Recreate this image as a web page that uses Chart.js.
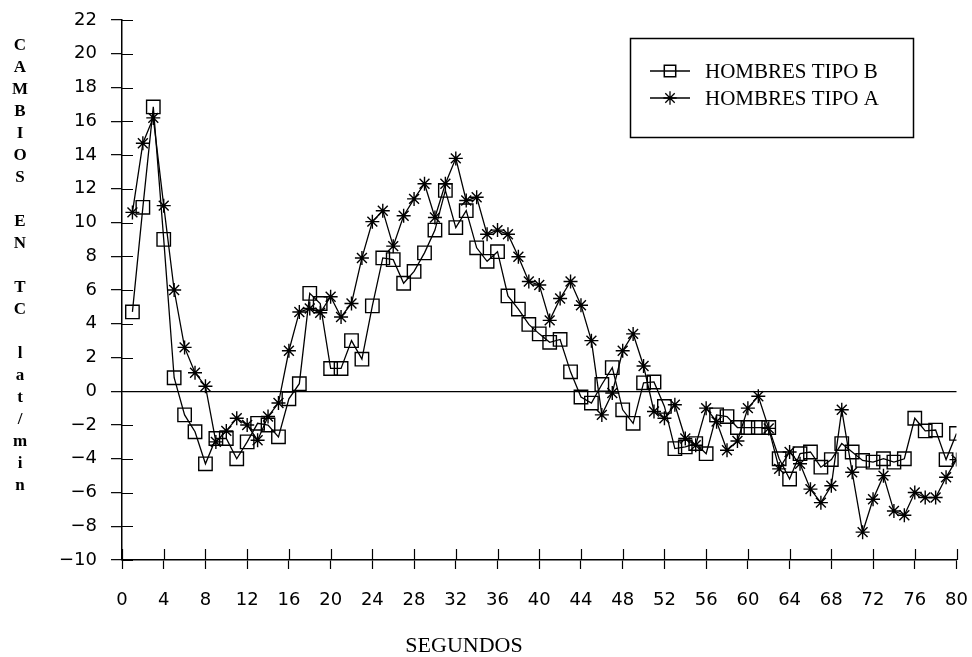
<!DOCTYPE html>
<html>
<head>
<meta charset="utf-8">
<script src="https://cdn.jsdelivr.net/npm/chart.js@4/dist/chart.umd.min.js"></script>
<style>
  html, body { margin: 0; padding: 0; background: #fff; }
  #wrap { width: 972px; height: 657px; }
</style>
</head>
<body>
<div id="wrap"><canvas id="c" width="972" height="657"></canvas></div>
<script>
// Seconds 1..80
const seconds = Array.from({ length: 80 }, (_, i) => i + 1);

// Heart-rate change (lat/min), type B men
const tipoB = [
  4.7, 10.9, 16.85, 9.0, 0.8, -1.4, -2.4, -4.3, -2.8, -2.8,
  -4.0, -3.0, -1.9, -2.0, -2.7, -0.45, 0.45, 5.8, 5.2, 1.35,
  1.35, 3.0, 1.9, 5.06, 7.9, 7.8, 6.4, 7.1, 8.2, 9.55,
  11.9, 9.7, 10.7, 8.5, 7.7, 8.27, 5.65, 4.87, 3.96, 3.4,
  2.9, 3.07, 1.15, -0.34, -0.7, 0.4, 1.4, -1.1, -1.9, 0.5,
  0.55, -0.9, -3.4, -3.3, -3.1, -3.7, -1.4, -1.5, -2.15, -2.15,
  -2.15, -2.15, -4.0, -5.2, -3.7, -3.6, -4.5, -4.05, -3.1, -3.6,
  -4.1, -4.2, -4.0, -4.2, -4.0, -1.6, -2.35, -2.3, -4.05, -2.5
];

// Heart-rate change (lat/min), type A men
const tipoA = [
  10.6, 14.7, 16.2, 11.0, 6.0, 2.6, 1.1, 0.3, -3.0, -2.35,
  -1.6, -2.0, -2.9, -1.5, -0.7, 2.4, 4.7, 4.9, 4.65, 5.6,
  4.4, 5.2, 7.9, 10.05, 10.7, 8.6, 10.4, 11.4, 12.3, 10.3,
  12.3, 13.8, 11.3, 11.5, 9.3, 9.55, 9.3, 7.97, 6.5, 6.3,
  4.2, 5.5, 6.5, 5.1, 3.0, -1.4, -0.1, 2.4, 3.4, 1.5,
  -1.2, -1.6, -0.8, -2.8, -3.2, -1.0, -1.8, -3.5, -2.95, -1.0,
  -0.3, -2.2, -4.6, -3.6, -4.3, -5.8, -6.6, -5.6, -1.1, -4.8,
  -8.35, -6.4, -5.0, -7.1, -7.35, -6.0, -6.3, -6.3, -5.1, -4.05
];

const seriesNames = ['HOMBRES TIPO B', 'HOMBRES TIPO A'];
const yTitleLetters = ['C','A','M','B','I','O','S','','E','N','','T','C','','l','a','t','/','m','i','n'];
const xTitle = 'SEGUNDOS';

const X_MIN = 0, X_MAX = 80, X_STEP = 4;
const Y_MIN = -10, Y_MAX = 22, Y_STEP = 2;

const toPoints = (vals) => vals.map((v, i) => ({ x: seconds[i], y: v }));

const TICK_FONT = { family: '"DejaVu Sans"', size: 18 };
const SERIF = '"Liberation Serif", "Times New Roman", serif';

// Extra decorations: inner halves of tick marks, axis titles, boxed legend
const decorations = {
  id: 'decorations',
  afterDatasetsDraw(chart) {
    const { ctx, chartArea: a, scales } = chart;
    const xs = scales.x, ys = scales.y;
    ctx.save();
    ctx.strokeStyle = '#000';
    ctx.lineWidth = 1.2;
    // tick marks crossing into the plot
    ctx.beginPath();
    ys.ticks.forEach(t => {
      const py = Math.round(ys.getPixelForValue(t.value)) + 0.5;
      ctx.moveTo(a.left, py);
      ctx.lineTo(a.left + 11, py);
    });
    xs.ticks.forEach(t => {
      const px = Math.round(xs.getPixelForValue(t.value)) + 0.5;
      ctx.moveTo(px, a.bottom);
      ctx.lineTo(px, a.bottom - 11);
    });
    ctx.stroke();

    // vertical stacked y title
    ctx.fillStyle = '#000';
    ctx.font = 'bold 17px ' + SERIF;
    ctx.textAlign = 'center';
    ctx.textBaseline = 'middle';
    yTitleLetters.forEach((ch, i) => {
      if (ch) ctx.fillText(ch, 20, 46 + i * 22);
    });

    // x title
    ctx.font = '22px ' + SERIF;
    ctx.textBaseline = 'alphabetic';
    ctx.fillText(xTitle, 464, 652);

    // legend box
    const bx = 630, by = 38, bw = 283, bh = 99;
    ctx.lineWidth = 1.5;
    ctx.strokeRect(bx + 0.5, by + 0.5, bw, bh);
    const rows = [71, 98];
    chart.data.datasets.forEach((ds, i) => {
      const y = rows[i];
      ctx.strokeStyle = '#000';
      ctx.fillStyle = 'rgba(0,0,0,0)';
      Chart.helpers.drawPoint(ctx, {
        pointStyle: ds.pointStyle,
        radius: ds.pointRadius * (i === 0 ? 0.85 : 0.95),
        rotation: 0,
        borderWidth: ds.pointBorderWidth
      }, 670, y);
      ctx.lineWidth = 1.3;
      ctx.beginPath();
      ctx.moveTo(650, y);
      ctx.lineTo(690, y);
      ctx.stroke();
      ctx.fillStyle = '#000';
      ctx.font = '21px ' + SERIF;
      ctx.textAlign = 'left';
      ctx.textBaseline = 'middle';
      ctx.fillText(seriesNames[i], 705, y + 1);
    });
    ctx.restore();
  }
};

new Chart(document.getElementById('c'), {
  type: 'line',
  data: {
    datasets: [
      {
        label: seriesNames[0],
        data: toPoints(tipoB),
        borderColor: '#000',
        borderWidth: 1.3,
        pointStyle: 'rect',
        pointRadius: 9.5,
        pointBorderWidth: 1.4,
        pointBackgroundColor: 'rgba(0,0,0,0)',
        pointBorderColor: '#000',
        tension: 0
      },
      {
        label: seriesNames[1],
        data: toPoints(tipoA),
        borderColor: '#000',
        borderWidth: 1.3,
        pointStyle: 'star',
        pointRadius: 7,
        pointBorderWidth: 1.4,
        pointBackgroundColor: '#000',
        pointBorderColor: '#000',
        tension: 0
      }
    ]
  },
  options: {
    responsive: false,
    animation: false,
    devicePixelRatio: 1,
    layout: { padding: { left: 0, right: 15.5, top: 20, bottom: 0 } },
    plugins: { legend: { display: false }, tooltip: { enabled: false } },
    scales: {
      x: {
        type: 'linear',
        min: X_MIN, max: X_MAX,
        ticks: { stepSize: X_STEP, color: '#000', font: TICK_FONT, padding: 21, maxRotation: 0 },
        grid: { drawOnChartArea: false, tickLength: 9, tickColor: '#000', tickWidth: 1.2 },
        border: { color: '#000', width: 1.5 },
        afterFit(scale) {
          scale.height = 97;
          scale.paddingLeft = 0;
          scale.paddingRight = 0;
        }
      },
      y: {
        min: Y_MIN, max: Y_MAX,
        ticks: {
          stepSize: Y_STEP, color: '#000', font: TICK_FONT, padding: 14,
          callback: (v) => String(v).replace('-', '\u2212')
        },
        grid: {
          drawOnChartArea: true,
          color: (c) => (c.tick && c.tick.value === 0 ? '#000' : 'rgba(0,0,0,0)'),
          lineWidth: 1.3,
          tickLength: 11, tickColor: '#000', tickWidth: 1.2
        },
        border: { color: '#000', width: 1.5 },
        afterFit(scale) {
          scale.width = 122;
          scale.paddingTop = 0;
          scale.paddingBottom = 0;
        }
      }
    }
  },
  plugins: [decorations]
});
</script>
</body>
</html>
